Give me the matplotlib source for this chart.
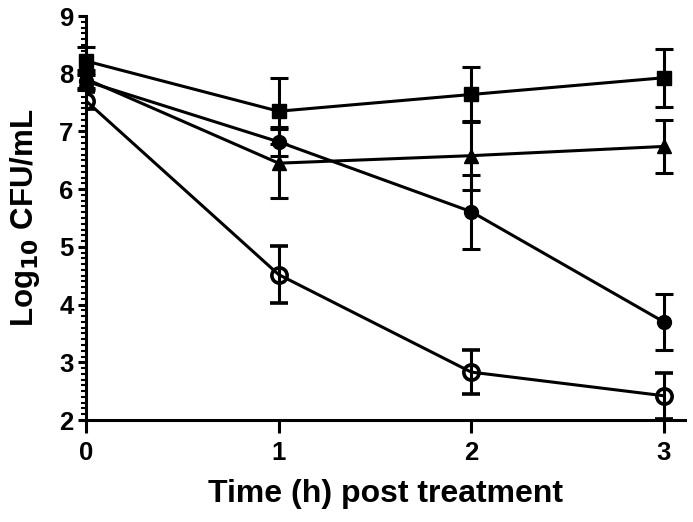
import matplotlib
matplotlib.use("Agg")
import matplotlib.pyplot as plt
from matplotlib.ticker import MultipleLocator

# time points (h)
hours = [0, 1, 2, 3]

# log10 CFU/mL, mean and SD for each group
squares = [8.22, 7.35, 7.64, 7.93]
squares_sd = [0.25, 0.57, 0.48, 0.50]

triangles = [7.91, 6.45, 6.58, 6.74]
triangles_sd = [0.15, 0.60, 0.60, 0.46]

dots = [7.87, 6.82, 5.61, 3.70]
dots_sd = [0.15, 0.25, 0.64, 0.49]

rings = [7.53, 4.52, 2.83, 2.42]
rings_sd = [0.15, 0.49, 0.38, 0.40]

font = ['Liberation Sans', 'DejaVu Sans']

fig = plt.figure(figsize=(6.93, 5.22), dpi=100)
# axes box: x from 86 to 685 px, y from 16 to 420 px
ax = fig.add_axes([86 / 693, 1 - 420 / 522, 599 / 693, 404 / 522])

common = dict(color='black', lw=2.2, capsize=6.5, capthick=2.2,
              elinewidth=2.2, clip_on=False, zorder=3)
ax.errorbar(hours, squares, yerr=squares_sd, marker='s', ms=9.5, **common)
ax.errorbar(hours, triangles, yerr=triangles_sd, marker='^', ms=10, **common)
ax.errorbar(hours, dots, yerr=dots_sd, marker='o', ms=10, **common)
ax.errorbar(hours, rings, yerr=rings_sd, marker='o', ms=11, mfc='none',
            mew=2.6, **{**common, 'clip_on': True})

ax.set_xlim(0, 3.11)
ax.set_ylim(2, 9)
ax.set_xticks(hours)
ax.set_yticks(range(2, 10))
ax.yaxis.set_minor_locator(MultipleLocator(0.1))

for side in ['top', 'right']:
    ax.spines[side].set_visible(False)
for side in ['left', 'bottom']:
    ax.spines[side].set_linewidth(2.2)

ax.tick_params(axis='x', which='major', length=9, width=2.2, direction='out', pad=6)
ax.tick_params(axis='y', which='major', length=6, width=2.2, direction='out', pad=3)
ax.tick_params(axis='y', which='minor', length=3.5, width=1.5, direction='out')

for lbl in ax.get_xticklabels() + ax.get_yticklabels():
    lbl.set_fontfamily(font)
    lbl.set_fontweight('bold')
    lbl.set_fontsize(18.5)

ax.set_xlabel('Time (h) post treatment', fontsize=23, fontweight='bold',
              family=font, labelpad=10)
ax.set_ylabel('Log$_{\\mathbf{10}}$ CFU/mL', fontsize=22.5, fontweight='bold',
              family=font, labelpad=12)

fig.savefig('out.png', dpi=100)
